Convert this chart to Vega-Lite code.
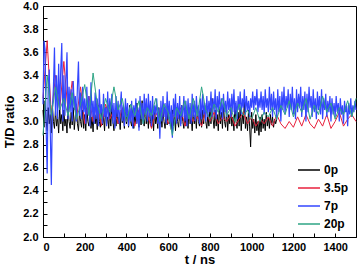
{
"$schema":"https://vega.github.io/schema/vega-lite/v6.json",
"width":313,"height":231,
"autosize":"none",
"padding":{"left":43,"top":6,"right":3,"bottom":29},
"background":"white",
"config":{
 "view":{"stroke":"black","strokeWidth":1},
 "axis":{"domainColor":"black","domainWidth":1,"tickColor":"black","tickSize":-4,"labelFont":"Liberation Sans","labelFontWeight":"bold","labelFontSize":11,"labelColor":"black","titleFont":"Liberation Sans","titleFontWeight":"bold","titleFontSize":13,"titleColor":"black","grid":false},
 "legend":{"labelFont":"Liberation Sans","labelFontWeight":"bold","labelFontSize":12,"labelColor":"black"}
},
"encoding":{
 "x":{"field":"t","type":"quantitative","scale":{"domain":[0,1500],"nice":false},"axis":{"title":"t / ns","values":[0,100,200,300,400,500,600,700,800,900,1000,1100,1200,1300,1400,1500],"labelExpr":"datum.value % 200 == 0 ? datum.label : ''","format":"d","labelPadding":8,"titlePadding":1}},
 "y":{"field":"v","type":"quantitative","scale":{"domain":[2,4],"nice":false,"zero":false},"axis":{"title":"T/D ratio","values":[2,2.1,2.2,2.3,2.4,2.5,2.6,2.7,2.8,2.9,3,3.1,3.2,3.3,3.4,3.5,3.6,3.7,3.8,3.9,4],"labelExpr":"round(datum.value*10) % 2 == 0 ? format(datum.value,'.1f') : ''","labelPadding":9,"titlePadding":6}}
},
"layer":[
 {"data":{"values":[
{"t":0,"v":3.10},{"t":5,"v":2.95},{"t":10,"v":3.18},{"t":15,"v":3.00},{"t":20,"v":2.92},{"t":25,"v":3.12},{"t":30,"v":2.98},{"t":35,"v":3.06},{"t":40,"v":2.90},{"t":45,"v":3.14},
{"t":50,"v":3.00},{"t":55,"v":2.94},{"t":60,"v":3.10},{"t":65,"v":2.96},{"t":70,"v":3.04},{"t":75,"v":2.90},{"t":80,"v":3.12},{"t":85,"v":2.98},{"t":90,"v":3.06},{"t":95,"v":2.92},
{"t":100,"v":3.10},{"t":105,"v":2.96},{"t":110,"v":3.02},{"t":115,"v":2.90},{"t":120,"v":3.14},{"t":125,"v":3.00},{"t":130,"v":2.94},{"t":135,"v":3.08},{"t":140,"v":2.97},{"t":145,"v":3.12},
{"t":150,"v":2.93},{"t":155,"v":3.04},{"t":160,"v":3.15},{"t":165,"v":2.98},{"t":170,"v":2.92},{"t":175,"v":3.08},{"t":180,"v":3.00},{"t":185,"v":2.95},{"t":190,"v":3.10},{"t":195,"v":2.94},
{"t":200,"v":3.06},{"t":205,"v":2.92},{"t":210,"v":3.12},{"t":215,"v":3.00},{"t":220,"v":2.96},{"t":225,"v":3.10},{"t":230,"v":2.94},{"t":235,"v":3.04},{"t":240,"v":2.91},{"t":245,"v":3.12},
{"t":250,"v":2.98},{"t":255,"v":3.06},{"t":260,"v":2.93},{"t":265,"v":3.14},{"t":270,"v":3.00},{"t":275,"v":2.95},{"t":280,"v":3.10},{"t":285,"v":2.97},{"t":290,"v":3.05},{"t":295,"v":2.92},
{"t":300,"v":3.12},{"t":305,"v":2.98},{"t":310,"v":3.04},{"t":315,"v":2.94},{"t":320,"v":3.10},{"t":325,"v":2.96},{"t":330,"v":3.14},{"t":335,"v":3.00},{"t":340,"v":2.92},{"t":345,"v":3.08},
{"t":350,"v":2.96},{"t":355,"v":3.12},{"t":360,"v":2.98},{"t":365,"v":3.04},{"t":370,"v":2.93},{"t":375,"v":3.10},{"t":380,"v":2.99},{"t":385,"v":3.06},{"t":390,"v":2.94},{"t":395,"v":3.12},
{"t":400,"v":2.98},{"t":405,"v":3.08},{"t":410,"v":2.95},{"t":415,"v":3.14},{"t":420,"v":3.00},{"t":425,"v":2.96},{"t":430,"v":3.10},{"t":435,"v":2.94},{"t":440,"v":3.06},{"t":445,"v":2.98},
{"t":450,"v":3.16},{"t":455,"v":3.00},{"t":460,"v":2.95},{"t":465,"v":3.10},{"t":470,"v":2.97},{"t":475,"v":3.18},{"t":480,"v":3.02},{"t":485,"v":2.96},{"t":490,"v":3.12},{"t":495,"v":2.98},
{"t":500,"v":3.08},{"t":505,"v":2.94},{"t":510,"v":3.12},{"t":515,"v":3.00},{"t":520,"v":2.95},{"t":525,"v":3.06},{"t":530,"v":2.92},{"t":535,"v":3.10},{"t":540,"v":2.98},{"t":545,"v":3.04},
{"t":550,"v":2.94},{"t":555,"v":3.12},{"t":560,"v":2.98},{"t":565,"v":3.06},{"t":570,"v":2.95},{"t":575,"v":3.10},{"t":580,"v":3.00},{"t":585,"v":2.94},{"t":590,"v":3.08},{"t":595,"v":2.97},
{"t":600,"v":3.12},{"t":605,"v":2.98},{"t":610,"v":3.04},{"t":615,"v":2.93},{"t":620,"v":3.10},{"t":625,"v":2.96},{"t":630,"v":3.06},{"t":635,"v":2.92},{"t":640,"v":3.12},{"t":645,"v":3.00},
{"t":650,"v":2.95},{"t":655,"v":3.08},{"t":660,"v":2.98},{"t":665,"v":3.14},{"t":670,"v":3.00},{"t":675,"v":2.94},{"t":680,"v":3.06},{"t":685,"v":2.96},{"t":690,"v":3.10},{"t":695,"v":2.94},
{"t":700,"v":3.12},{"t":705,"v":2.98},{"t":710,"v":3.04},{"t":715,"v":2.92},{"t":720,"v":3.10},{"t":725,"v":2.98},{"t":730,"v":3.06},{"t":735,"v":2.94},{"t":740,"v":3.12},{"t":745,"v":3.00},
{"t":750,"v":2.96},{"t":755,"v":3.08},{"t":760,"v":2.95},{"t":765,"v":3.10},{"t":770,"v":2.98},{"t":775,"v":3.14},{"t":780,"v":3.00},{"t":785,"v":2.94},{"t":790,"v":3.06},{"t":795,"v":2.96},
{"t":800,"v":3.12},{"t":805,"v":2.98},{"t":810,"v":3.20},{"t":815,"v":3.02},{"t":820,"v":2.94},{"t":825,"v":3.10},{"t":830,"v":2.96},{"t":835,"v":3.06},{"t":840,"v":2.92},{"t":845,"v":3.12},
{"t":850,"v":2.98},{"t":855,"v":3.08},{"t":860,"v":2.94},{"t":865,"v":3.14},{"t":870,"v":3.00},{"t":875,"v":2.95},{"t":880,"v":3.10},{"t":885,"v":2.92},{"t":890,"v":3.06},{"t":895,"v":2.98},
{"t":900,"v":3.12},{"t":905,"v":2.96},{"t":910,"v":3.04},{"t":915,"v":2.92},{"t":920,"v":3.16},{"t":925,"v":3.00},{"t":930,"v":2.94},{"t":935,"v":3.08},{"t":940,"v":2.96},{"t":945,"v":3.12},
{"t":950,"v":2.92},{"t":955,"v":3.06},{"t":960,"v":2.98},{"t":965,"v":3.18},{"t":970,"v":2.94},{"t":975,"v":3.04},{"t":980,"v":2.92},{"t":985,"v":3.10},{"t":990,"v":2.96},{"t":995,"v":2.78},
{"t":1000,"v":3.08},{"t":1005,"v":2.94},{"t":1010,"v":3.02},{"t":1015,"v":2.90},{"t":1020,"v":3.06},{"t":1025,"v":2.92},{"t":1030,"v":3.00},{"t":1035,"v":2.88},{"t":1040,"v":3.04},{"t":1045,"v":2.91},
{"t":1050,"v":3.06},{"t":1055,"v":2.94},{"t":1060,"v":3.02},{"t":1065,"v":2.92},{"t":1070,"v":3.08},{"t":1075,"v":2.96},{"t":1080,"v":3.04},{"t":1085,"v":2.94},{"t":1090,"v":3.06},{"t":1095,"v":2.97},
{"t":1100,"v":3.04},{"t":1105,"v":2.95},{"t":1110,"v":3.02},{"t":1115,"v":2.98},{"t":1120,"v":3.02}
 ]},"mark":{"type":"line","strokeWidth":1},"encoding":{"color":{"datum":"0p","type":"nominal","scale":{"domain":["0p","3.5p","7p","20p"],"range":["#000000","#e8203c","#3346ff","#2ea585"]},"legend":{"title":null,"orient":"none","legendX":254,"legendY":152,"symbolType":"stroke","symbolSize":484,"symbolStrokeWidth":1.5,"rowPadding":-7.7,"labelOffset":3}}}},
 {"data":{"values":[
{"t":0,"v":3.20},{"t":20,"v":3.70},{"t":40,"v":3.05},{"t":60,"v":3.40},{"t":80,"v":3.10},{"t":100,"v":3.52},{"t":120,"v":3.08},{"t":140,"v":3.35},{"t":160,"v":3.02},{"t":180,"v":3.30},
{"t":200,"v":2.98},{"t":220,"v":3.22},{"t":240,"v":3.00},{"t":260,"v":3.18},{"t":280,"v":2.96},{"t":300,"v":3.15},{"t":320,"v":3.02},{"t":340,"v":3.10},{"t":360,"v":2.98},{"t":380,"v":3.12},
{"t":400,"v":3.00},{"t":420,"v":3.08},{"t":440,"v":2.96},{"t":460,"v":3.10},{"t":480,"v":3.02},{"t":500,"v":3.06},{"t":520,"v":2.94},{"t":540,"v":3.08},{"t":560,"v":3.00},{"t":580,"v":3.10},
{"t":600,"v":2.98},{"t":620,"v":3.06},{"t":640,"v":3.02},{"t":660,"v":3.12},{"t":680,"v":2.96},{"t":700,"v":3.08},{"t":720,"v":3.00},{"t":740,"v":3.04},{"t":760,"v":2.96},{"t":780,"v":3.10},
{"t":800,"v":3.00},{"t":820,"v":3.08},{"t":840,"v":2.98},{"t":860,"v":3.04},{"t":880,"v":3.00},{"t":900,"v":3.06},{"t":920,"v":2.96},{"t":940,"v":3.02},{"t":960,"v":3.08},{"t":980,"v":2.98},
{"t":1000,"v":3.04},{"t":1020,"v":2.96},{"t":1040,"v":3.02},{"t":1060,"v":2.98},{"t":1080,"v":3.04},{"t":1100,"v":2.96},{"t":1120,"v":3.06},{"t":1140,"v":2.98},{"t":1160,"v":2.94},{"t":1180,"v":3.00},
{"t":1200,"v":2.95},{"t":1220,"v":3.04},{"t":1240,"v":2.96},{"t":1260,"v":3.06},{"t":1280,"v":2.98},{"t":1300,"v":2.94},{"t":1320,"v":3.02},{"t":1340,"v":2.96},{"t":1360,"v":3.06},{"t":1380,"v":2.94},
{"t":1400,"v":3.00},{"t":1420,"v":3.08},{"t":1440,"v":2.96},{"t":1460,"v":3.02},{"t":1480,"v":3.06},{"t":1500,"v":3.00}
 ]},"mark":{"type":"line","strokeWidth":1},"encoding":{"color":{"datum":"3.5p","type":"nominal"}}},
 {"data":{"values":[
{"t":0,"v":3.15},{"t":5,"v":3.70},{"t":10,"v":3.62},{"t":15,"v":2.95},{"t":20,"v":2.55},{"t":25,"v":3.30},{"t":30,"v":3.45},{"t":35,"v":2.90},{"t":40,"v":2.45},{"t":45,"v":3.10},
{"t":50,"v":3.30},{"t":55,"v":3.64},{"t":60,"v":3.05},{"t":65,"v":3.40},{"t":70,"v":3.02},{"t":75,"v":3.50},{"t":80,"v":3.10},{"t":85,"v":3.45},{"t":90,"v":3.68},{"t":95,"v":3.00},
{"t":100,"v":3.40},{"t":105,"v":3.05},{"t":110,"v":3.35},{"t":115,"v":3.60},{"t":120,"v":3.02},{"t":125,"v":3.30},{"t":130,"v":3.08},{"t":135,"v":3.28},{"t":140,"v":3.00},{"t":145,"v":3.35},
{"t":150,"v":3.10},{"t":155,"v":3.22},{"t":160,"v":3.00},{"t":165,"v":3.30},{"t":170,"v":3.52},{"t":175,"v":3.05},{"t":180,"v":3.25},{"t":185,"v":3.02},{"t":190,"v":3.30},{"t":195,"v":3.08},
{"t":200,"v":3.20},{"t":205,"v":2.98},{"t":210,"v":3.30},{"t":215,"v":3.06},{"t":220,"v":3.22},{"t":225,"v":2.96},{"t":230,"v":3.34},{"t":235,"v":3.04},{"t":240,"v":3.18},{"t":245,"v":2.98},
{"t":250,"v":3.25},{"t":255,"v":3.02},{"t":260,"v":3.20},{"t":265,"v":2.96},{"t":270,"v":3.28},{"t":275,"v":3.06},{"t":280,"v":3.15},{"t":285,"v":2.98},{"t":290,"v":3.24},{"t":295,"v":3.04},
{"t":300,"v":3.12},{"t":305,"v":2.96},{"t":310,"v":3.26},{"t":315,"v":3.02},{"t":320,"v":3.20},{"t":325,"v":3.08},{"t":330,"v":3.24},{"t":335,"v":2.98},{"t":340,"v":3.16},{"t":345,"v":2.94},
{"t":350,"v":3.22},{"t":355,"v":3.04},{"t":360,"v":3.18},{"t":365,"v":2.98},{"t":370,"v":3.12},{"t":375,"v":3.26},{"t":380,"v":3.00},{"t":385,"v":3.14},{"t":390,"v":2.96},{"t":395,"v":3.20},
{"t":400,"v":3.04},{"t":405,"v":3.16},{"t":410,"v":2.96},{"t":415,"v":3.12},{"t":420,"v":3.00},{"t":425,"v":3.18},{"t":430,"v":2.94},{"t":435,"v":3.14},{"t":440,"v":3.04},{"t":445,"v":3.20},
{"t":450,"v":2.98},{"t":455,"v":3.12},{"t":460,"v":2.92},{"t":465,"v":3.22},{"t":470,"v":3.02},{"t":475,"v":3.16},{"t":480,"v":2.98},{"t":485,"v":3.24},{"t":490,"v":3.06},{"t":495,"v":3.20},
{"t":500,"v":3.00},{"t":505,"v":3.24},{"t":510,"v":3.04},{"t":515,"v":3.18},{"t":520,"v":2.96},{"t":525,"v":3.22},{"t":530,"v":3.02},{"t":535,"v":3.14},{"t":540,"v":3.06},{"t":545,"v":3.20},
{"t":550,"v":2.98},{"t":555,"v":3.12},{"t":560,"v":2.85},{"t":565,"v":3.18},{"t":570,"v":3.00},{"t":575,"v":3.22},{"t":580,"v":3.04},{"t":585,"v":3.16},{"t":590,"v":2.98},{"t":595,"v":3.26},
{"t":600,"v":3.02},{"t":605,"v":3.18},{"t":610,"v":2.96},{"t":615,"v":3.14},{"t":620,"v":2.86},{"t":625,"v":3.20},{"t":630,"v":3.04},{"t":635,"v":3.24},{"t":640,"v":2.98},{"t":645,"v":3.16},
{"t":650,"v":3.02},{"t":655,"v":3.22},{"t":660,"v":2.96},{"t":665,"v":3.14},{"t":670,"v":3.04},{"t":675,"v":3.22},{"t":680,"v":3.00},{"t":685,"v":3.18},{"t":690,"v":2.96},{"t":695,"v":3.20},
{"t":700,"v":3.02},{"t":705,"v":3.16},{"t":710,"v":2.98},{"t":715,"v":3.24},{"t":720,"v":3.04},{"t":725,"v":3.18},{"t":730,"v":3.00},{"t":735,"v":3.22},{"t":740,"v":3.06},{"t":745,"v":3.14},
{"t":750,"v":2.98},{"t":755,"v":3.20},{"t":760,"v":3.02},{"t":765,"v":3.24},{"t":770,"v":3.06},{"t":775,"v":3.16},{"t":780,"v":3.00},{"t":785,"v":3.22},{"t":790,"v":3.04},{"t":795,"v":3.18},
{"t":800,"v":3.08},{"t":805,"v":3.26},{"t":810,"v":3.04},{"t":815,"v":3.20},{"t":820,"v":3.08},{"t":825,"v":3.28},{"t":830,"v":3.02},{"t":835,"v":3.22},{"t":840,"v":3.10},{"t":845,"v":3.26},
{"t":850,"v":3.06},{"t":855,"v":3.20},{"t":860,"v":3.02},{"t":865,"v":3.24},{"t":870,"v":3.08},{"t":875,"v":3.18},{"t":880,"v":3.04},{"t":885,"v":3.26},{"t":890,"v":3.10},{"t":895,"v":3.20},
{"t":900,"v":3.04},{"t":905,"v":3.24},{"t":910,"v":3.08},{"t":915,"v":3.28},{"t":920,"v":3.06},{"t":925,"v":3.18},{"t":930,"v":3.02},{"t":935,"v":3.22},{"t":940,"v":3.10},{"t":945,"v":3.26},
{"t":950,"v":3.06},{"t":955,"v":3.20},{"t":960,"v":3.12},{"t":965,"v":3.28},{"t":970,"v":3.06},{"t":975,"v":3.22},{"t":980,"v":3.10},{"t":985,"v":3.18},{"t":990,"v":3.04},{"t":995,"v":3.20},
{"t":1000,"v":3.12},{"t":1005,"v":3.26},{"t":1010,"v":3.10},{"t":1015,"v":3.22},{"t":1020,"v":3.14},{"t":1025,"v":3.28},{"t":1030,"v":3.08},{"t":1035,"v":3.20},{"t":1040,"v":3.12},{"t":1045,"v":3.26},
{"t":1050,"v":3.10},{"t":1055,"v":3.22},{"t":1060,"v":3.06},{"t":1065,"v":3.28},{"t":1070,"v":3.12},{"t":1075,"v":3.20},{"t":1080,"v":3.08},{"t":1085,"v":3.30},{"t":1090,"v":3.10},{"t":1095,"v":3.24},
{"t":1100,"v":3.04},{"t":1105,"v":3.26},{"t":1110,"v":3.10},{"t":1115,"v":3.20},{"t":1120,"v":3.02},{"t":1125,"v":3.28},{"t":1130,"v":3.08},{"t":1135,"v":3.22},{"t":1140,"v":3.00},{"t":1145,"v":3.26},
{"t":1150,"v":3.10},{"t":1155,"v":3.30},{"t":1160,"v":3.06},{"t":1165,"v":3.22},{"t":1170,"v":3.12},{"t":1175,"v":3.28},{"t":1180,"v":3.04},{"t":1185,"v":3.24},{"t":1190,"v":3.10},{"t":1195,"v":3.30},
{"t":1200,"v":3.06},{"t":1205,"v":3.20},{"t":1210,"v":3.02},{"t":1215,"v":3.28},{"t":1220,"v":3.08},{"t":1225,"v":3.24},{"t":1230,"v":3.12},{"t":1235,"v":3.30},{"t":1240,"v":3.04},{"t":1245,"v":3.22},
{"t":1250,"v":3.10},{"t":1255,"v":3.26},{"t":1260,"v":3.00},{"t":1265,"v":3.24},{"t":1270,"v":3.08},{"t":1275,"v":3.30},{"t":1280,"v":3.12},{"t":1285,"v":3.22},{"t":1290,"v":3.04},{"t":1295,"v":3.28},
{"t":1300,"v":3.08},{"t":1305,"v":3.20},{"t":1310,"v":3.02},{"t":1315,"v":3.26},{"t":1320,"v":3.10},{"t":1325,"v":3.22},{"t":1330,"v":3.06},{"t":1335,"v":3.28},{"t":1340,"v":3.02},{"t":1345,"v":3.20},
{"t":1350,"v":3.10},{"t":1355,"v":3.24},{"t":1360,"v":3.04},{"t":1365,"v":3.18},{"t":1370,"v":3.08},{"t":1375,"v":3.22},{"t":1380,"v":3.00},{"t":1385,"v":3.20},{"t":1390,"v":3.06},{"t":1395,"v":3.16},
{"t":1400,"v":3.04},{"t":1405,"v":3.22},{"t":1410,"v":3.08},{"t":1415,"v":3.16},{"t":1420,"v":3.00},{"t":1425,"v":3.20},{"t":1430,"v":3.06},{"t":1435,"v":3.14},{"t":1440,"v":2.98},{"t":1445,"v":3.18},
{"t":1450,"v":3.08},{"t":1455,"v":3.14},{"t":1460,"v":2.96},{"t":1465,"v":3.16},{"t":1470,"v":3.06},{"t":1475,"v":3.20},{"t":1480,"v":3.04},{"t":1485,"v":3.14},{"t":1490,"v":3.08},{"t":1495,"v":3.18},
{"t":1500,"v":3.10}
 ]},"mark":{"type":"line","strokeWidth":1.2},"encoding":{"color":{"datum":"7p","type":"nominal"}}},
 {"data":{"values":[
{"t":0,"v":2.88},{"t":20,"v":3.40},{"t":40,"v":3.05},{"t":60,"v":3.30},{"t":80,"v":3.10},{"t":100,"v":3.20},{"t":120,"v":3.05},{"t":140,"v":3.25},{"t":160,"v":3.02},{"t":180,"v":3.15},
{"t":200,"v":3.32},{"t":220,"v":3.05},{"t":240,"v":3.42},{"t":260,"v":3.15},{"t":280,"v":3.02},{"t":300,"v":3.20},{"t":320,"v":3.08},{"t":340,"v":3.30},{"t":360,"v":3.10},{"t":380,"v":3.20},
{"t":400,"v":3.00},{"t":420,"v":3.15},{"t":440,"v":3.05},{"t":460,"v":3.18},{"t":480,"v":2.98},{"t":500,"v":3.12},{"t":520,"v":3.05},{"t":540,"v":3.20},{"t":560,"v":3.00},{"t":580,"v":3.15},
{"t":600,"v":3.08},{"t":620,"v":2.88},{"t":640,"v":3.12},{"t":660,"v":3.05},{"t":680,"v":3.18},{"t":700,"v":3.02},{"t":720,"v":3.20},{"t":740,"v":3.05},{"t":760,"v":3.30},{"t":780,"v":3.10},
{"t":800,"v":3.02},{"t":820,"v":3.15},{"t":840,"v":3.08},{"t":860,"v":3.20},{"t":880,"v":3.05},{"t":900,"v":3.12},{"t":920,"v":3.00},{"t":940,"v":3.15},{"t":960,"v":3.05},{"t":980,"v":3.10},
{"t":1000,"v":3.02},{"t":1020,"v":3.12},{"t":1040,"v":3.00},{"t":1060,"v":3.08},{"t":1080,"v":3.04},{"t":1100,"v":3.12},{"t":1120,"v":3.02},{"t":1140,"v":3.14},{"t":1160,"v":3.06},{"t":1180,"v":3.18},
{"t":1200,"v":3.04},{"t":1220,"v":3.16},{"t":1240,"v":3.08},{"t":1260,"v":3.20},{"t":1280,"v":3.02},{"t":1300,"v":3.14},{"t":1320,"v":3.06},{"t":1340,"v":3.22},{"t":1360,"v":3.08},{"t":1380,"v":3.16},
{"t":1400,"v":3.02},{"t":1420,"v":3.12},{"t":1440,"v":3.06},{"t":1460,"v":3.18},{"t":1480,"v":3.04},{"t":1500,"v":3.20}
 ]},"mark":{"type":"line","strokeWidth":1},"encoding":{"color":{"datum":"20p","type":"nominal"}}}
]
}
